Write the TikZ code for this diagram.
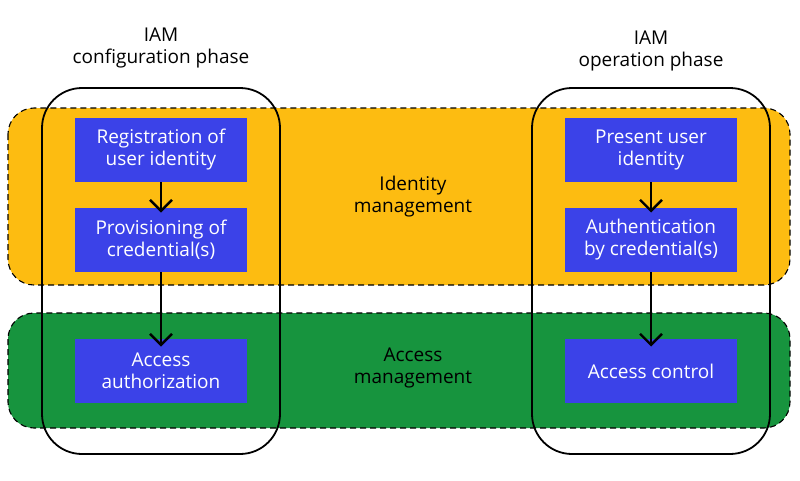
\documentclass[tikz,border=0pt]{standalone}
\usepackage{fontspec}
\setmainfont{Open Sans}
\definecolor{bandyellow}{RGB}{253,188,17}
\definecolor{bandgreen}{RGB}{23,148,62}
\definecolor{boxblue}{RGB}{59,66,232}
\begin{document}
\begin{tikzpicture}[x=1pt,y=-1pt,
  band/.style={draw=black,dash pattern=on 6pt off 4pt,line width=1.1pt,rounded corners=26pt},
  phase/.style={draw=black,line width=1.8pt,rounded corners=40pt},
  bluebox/.style={fill=boxblue,text=white,minimum width=172pt,minimum height=64pt,inner sep=0pt,align=center,font=\fontsize{19}{22}\selectfont},
  lbl/.style={align=center,font=\fontsize{19}{22}\selectfont,text=black},
  flow/.style={line width=2.4pt},
  barb/.style={line width=2.4pt,line join=miter}]
\useasboundingbox (0,0) rectangle (800,480);
% bands
\fill[bandyellow,rounded corners=26pt] (8,108) rectangle (790,285);
\draw[band] (8,108) rectangle (790,285);
\fill[bandgreen,rounded corners=26pt] (8,313) rectangle (790,428);
\draw[band] (8,313) rectangle (790,428);
% phases
\draw[phase] (42,88) rectangle (280,454);
\draw[phase] (532,88) rectangle (770,454);
% headings
\node[lbl] (h1) at (161,48) {IAM\\configuration phase};
\node[lbl] (h2) at (651,51) {IAM\\operation phase};
\node[lbl] (idm) at (413,197) {Identity\\management};
\node[lbl] (acm) at (413,368) {Access\\management};
% boxes
\node[bluebox] (reg) at (161,150) {Registration of\\user identity};
\node[bluebox] (prov) at (161,240) {Provisioning of\\credential(s)};
\node[bluebox] (auth) at (161,371) {Access\\authorization};
\node[bluebox] (pres) at (651,150) {Present user\\identity};
\node[bluebox] (authc) at (651,240) {Authentication\\by credential(s)};
\node[bluebox] (ctrl) at (651,371) {Access control};
% arrow end points
\coordinate (t1) at ([yshift=-3pt]prov.north);
\coordinate (t2) at ([yshift=-6pt]auth.north);
\coordinate (t3) at ([yshift=-3pt]authc.north);
\coordinate (t4) at ([yshift=-6pt]ctrl.north);
% arrows
\draw[flow] (reg.south) -- (t1);
\draw[flow] (prov.south) -- (t2);
\draw[flow] (pres.south) -- (t3);
\draw[flow] (authc.south) -- (t4);
\foreach \t in {t1,t2,t3,t4}
  \draw[barb] ([shift={(-11,-11)}]\t) -- (\t) -- ([shift={(11,-11)}]\t);
\end{tikzpicture}
\end{document}
